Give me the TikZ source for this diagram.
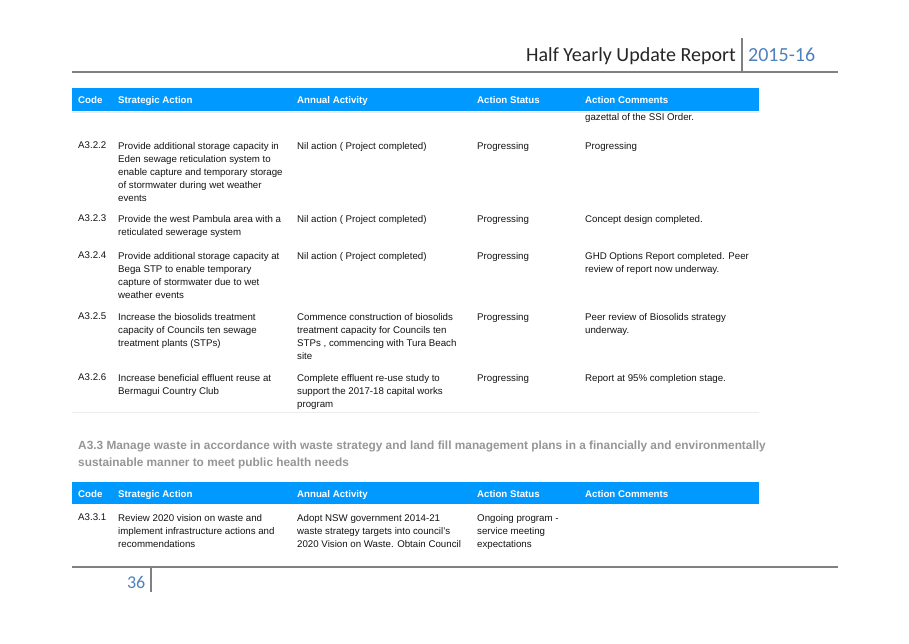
\documentclass[tikz,border=0pt]{standalone}
\usepackage{fontspec}
\setmainfont{Liberation Sans}
\newfontfamily\calfont{Carlito}
\definecolor{hdrblue}{RGB}{0,153,255}
\definecolor{titleblue}{RGB}{79,129,189}
\definecolor{titletext}{RGB}{38,38,38}
\definecolor{rulegrey}{RGB}{128,128,128}
\definecolor{headgrey}{RGB}{150,150,150}
\definecolor{faint}{RGB}{236,236,236}
\definecolor{bodytext}{RGB}{20,20,20}
\tikzset{
  cell/.style={anchor=north west, inner sep=0pt, align=left, text=bodytext,
    font=\fontsize{9.7}{13}\selectfont},
  hdrtext/.style={anchor=base west, inner sep=0pt, text=white,
    font=\fontsize{9.7}{12}\selectfont\bfseries},
  hdrbar/.style={fill=hdrblue, draw=none},
  pagerule/.style={draw=rulegrey, line width=2pt},
  faintrule/.style={draw=faint, line width=1pt},
}
\begin{document}
\begin{tikzpicture}[x=1pt,y=-1pt]
\path[use as bounding box, fill=white] (0,0) rectangle (909,643);
% page header
\node[anchor=base east, inner sep=0pt, text=titletext, font=\calfont\fontsize{20}{24}\selectfont] (title) at (736,61) {Half Yearly Update Report};
\node[anchor=base west, inner sep=0pt, text=titleblue, font=\calfont\fontsize{20}{24}\selectfont] (year) at (748,61) {2015-16};
\coordinate (tl) at (72,72); \coordinate (tr) at (838,72);
\coordinate (tbt) at (742,38); \coordinate (tbb) at (742,72);
\draw[pagerule] (tl) -- (tr);
\draw[pagerule] (tbt) -- (tbb);
% first table header
\node[hdrbar, minimum width=687pt, minimum height=23pt, anchor=north west, inner sep=0pt] (h1) at (72,88) {};
\node[hdrtext] (h1a) at (78,103) {Code};
\node[hdrtext] (h1b) at (118,103) {Strategic Action};
\node[hdrtext] (h1c) at (297,103) {Annual Activity};
\node[hdrtext] (h1d) at (477,103) {Action Status};
\node[hdrtext] (h1e) at (585,103) {Action Comments};
\coordinate (f1l) at (72,112.5); \coordinate (f1r) at (759,112.5);
\draw[faintrule] (f1l) -- (f1r);
\node[cell] (r0e) at (585,113) {gazettal of the SSI Order.};
% A3.2.2
\node[cell] (r1a) at (78,142) {A3.2.2};
\node[cell] (r1b) at (118,142) {Provide additional storage capacity in\\Eden sewage reticulation system to\\enable capture and temporary storage\\of stormwater during wet weather\\events};
\node[cell] (r1c) at (297,142) {Nil action ( Project completed)};
\node[cell] (r1d) at (477,142) {Progressing};
\node[cell] (r1e) at (585,142) {Progressing};
% A3.2.3
\node[cell] (r2a) at (78,215) {A3.2.3};
\node[cell] (r2b) at (118,215) {Provide the west Pambula area with a\\reticulated sewerage system};
\node[cell] (r2c) at (297,215) {Nil action ( Project completed)};
\node[cell] (r2d) at (477,215) {Progressing};
\node[cell] (r2e) at (585,215) {Concept design completed.};
% A3.2.4
\node[cell] (r3a) at (78,252) {A3.2.4};
\node[cell] (r3b) at (118,252) {Provide additional storage capacity at\\Bega STP to enable temporary\\capture of stormwater due to wet\\weather events};
\node[cell] (r3c) at (297,252) {Nil action ( Project completed)};
\node[cell] (r3d) at (477,252) {Progressing};
\node[cell] (r3e) at (585,252) {GHD Options Report completed. Peer\\review of report now underway.};
% A3.2.5
\node[cell] (r4a) at (78,313) {A3.2.5};
\node[cell] (r4b) at (118,313) {Increase the biosolids treatment\\capacity of Councils ten sewage\\treatment plants (STPs)};
\node[cell] (r4c) at (297,313) {Commence construction of biosolids\\treatment capacity for Councils ten\\STPs , commencing with Tura Beach\\site};
\node[cell] (r4d) at (477,313) {Progressing};
\node[cell] (r4e) at (585,313) {Peer review of Biosolids strategy\\underway.};
% A3.2.6
\node[cell] (r5a) at (78,374) {A3.2.6};
\node[cell] (r5b) at (118,374) {Increase beneficial effluent reuse at\\Bermagui Country Club};
\node[cell] (r5c) at (297,374) {Complete effluent re-use study to\\support the 2017-18 capital works\\program};
\node[cell] (r5d) at (477,374) {Progressing};
\node[cell] (r5e) at (585,374) {Report at 95\% completion stage.};
\coordinate (f2l) at (72,412.5); \coordinate (f2r) at (759,412.5);
\draw[faintrule] (f2l) -- (f2r);
% section heading
\node[anchor=north west, inner sep=0pt, align=left, text=headgrey, font=\fontsize{11.85}{17}\selectfont\bfseries] (sec) at (78,440.5) {A3.3 Manage waste in accordance with waste strategy and land fill management plans in a financially and environmentally\\sustainable manner to meet public health needs};
% second table header
\node[hdrbar, minimum width=687pt, minimum height=22pt, anchor=north west, inner sep=0pt] (h2) at (72,482) {};
\node[hdrtext] (h2a) at (78,497) {Code};
\node[hdrtext] (h2b) at (118,497) {Strategic Action};
\node[hdrtext] (h2c) at (297,497) {Annual Activity};
\node[hdrtext] (h2d) at (477,497) {Action Status};
\node[hdrtext] (h2e) at (585,497) {Action Comments};
% A3.3.1
\node[cell] (s1a) at (78,514) {A3.3.1};
\node[cell] (s1b) at (118,514) {Review 2020 vision on waste and\\implement infrastructure actions and\\recommendations};
\node[cell] (s1c) at (297,514) {Adopt NSW government 2014-21\\waste strategy targets into council's\\2020 Vision on Waste. Obtain Council};
\node[cell] (s1d) at (477,514) {Ongoing program -\\service meeting\\expectations};
% footer
\coordinate (bl) at (72,567); \coordinate (br) at (838,567);
\coordinate (bbt) at (151,567); \coordinate (bbb) at (151,592);
\draw[pagerule] (bl) -- (br);
\draw[pagerule] (bbt) -- (bbb);
\node[anchor=base east, inner sep=0pt, text=titleblue, font=\calfont\fontsize{18}{22}\selectfont] (pnum) at (145.5,588) {36};
\end{tikzpicture}
\end{document}
